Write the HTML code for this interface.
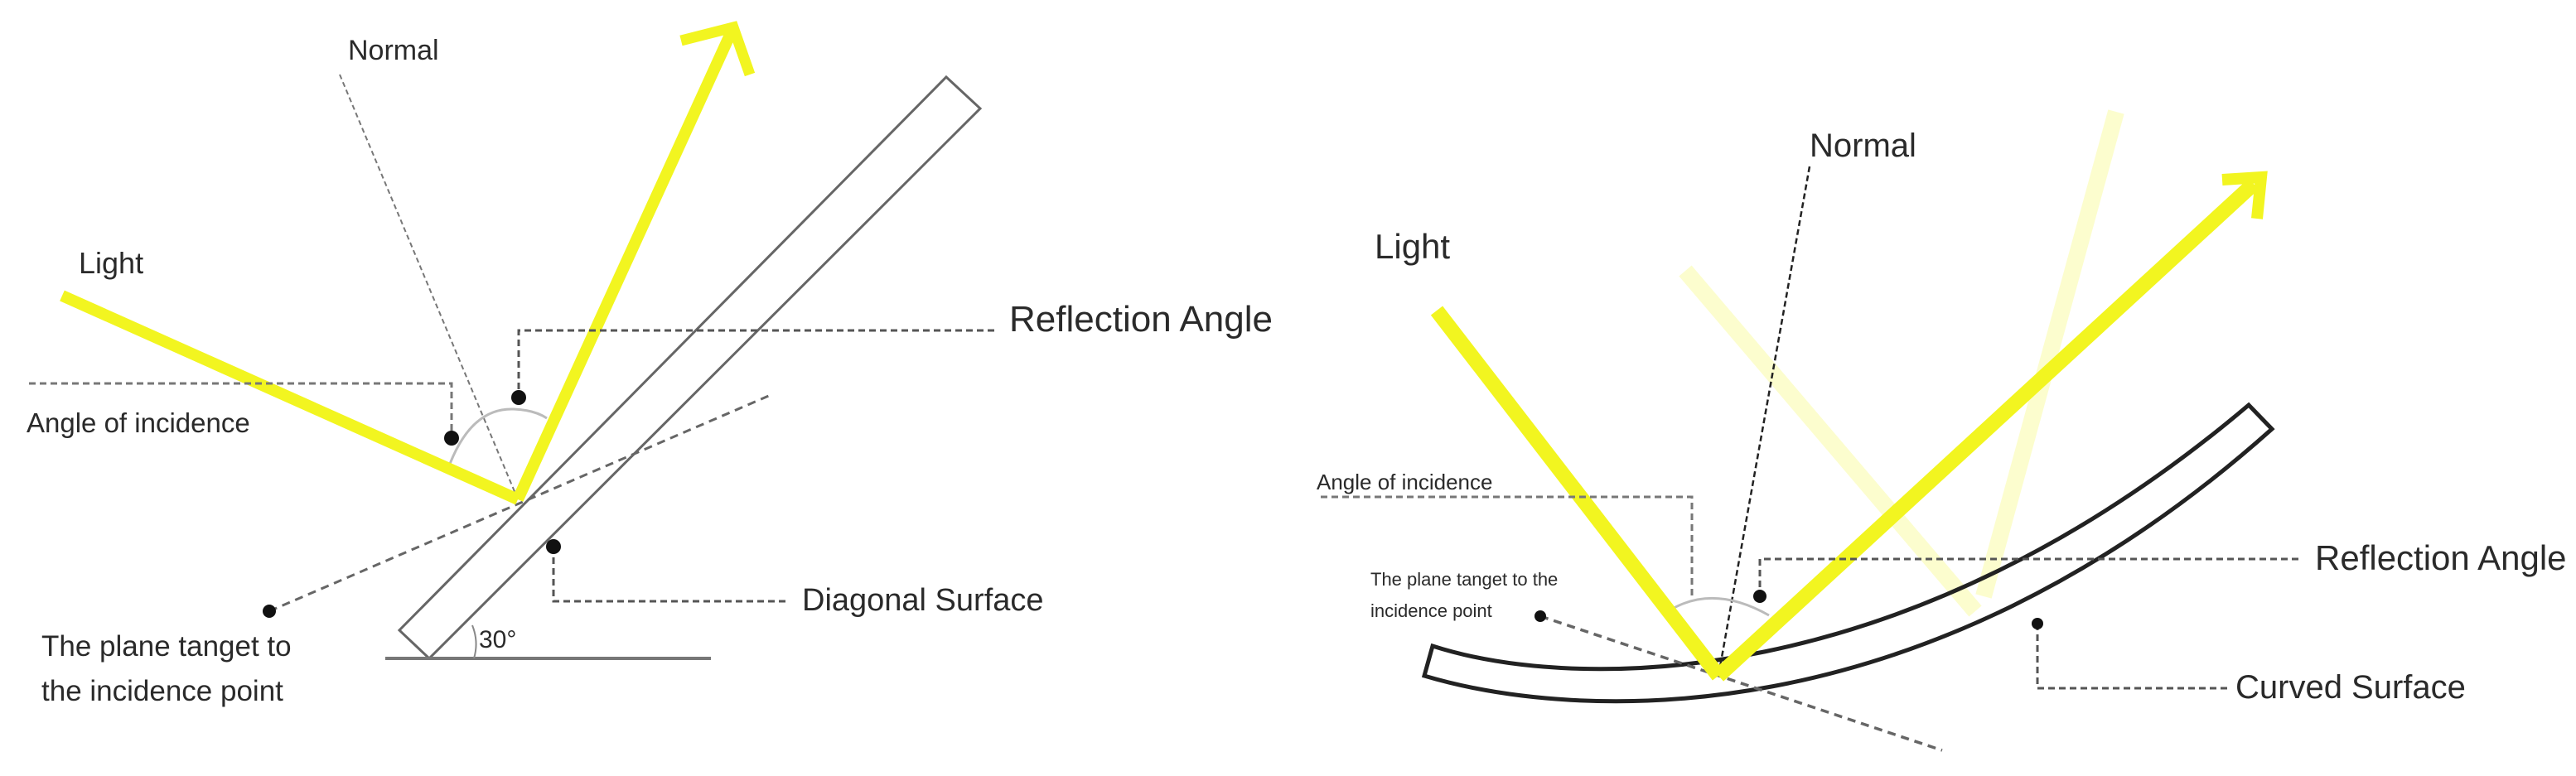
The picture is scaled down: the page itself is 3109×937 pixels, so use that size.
<!DOCTYPE html>
<html><head><meta charset="utf-8"><style>
html,body{margin:0;padding:0;background:#fff;}
svg{display:block;}
text{font-family:"Liberation Sans Narrow","Liberation Sans",sans-serif;fill:#2a2a2a;}
</style></head><body>
<svg width="3109" height="937" viewBox="0 0 3109 937" xmlns="http://www.w3.org/2000/svg">
<!-- LEFT DIAGRAM -->
<polygon points="1142,93 1183,131 518,795 482,761" fill="none" stroke="#666" stroke-width="3"/>
<line x1="465" y1="795" x2="858" y2="795" stroke="#777" stroke-width="4"/>
<path d="M570,755 Q578,775 572,795" fill="none" stroke="#888" stroke-width="2"/>
<text x="578" y="782" font-size="30">30°</text>
<line x1="410" y1="90" x2="625" y2="603" stroke="#777" stroke-width="2" stroke-dasharray="6,4"/>
<text x="420" y="72" font-size="34">Normal</text>
<line x1="325" y1="738" x2="930" y2="477" stroke="#666" stroke-width="3" stroke-dasharray="10,7"/>
<circle cx="325" cy="738" r="8" fill="#111"/>
<path d="M543,560 Q570,492 620,494 Q645,495 660,505" fill="none" stroke="#bbb" stroke-width="3"/>
<line x1="75" y1="357" x2="625" y2="603" stroke="#f2f520" stroke-width="14"/>
<line x1="625" y1="603" x2="882" y2="40" stroke="#f2f520" stroke-width="14"/>
<polyline points="822,49 885,33 905,90" fill="none" stroke="#f2f520" stroke-width="13"/>
<polyline points="35,463 545,463 545,529" fill="none" stroke="#777" stroke-width="3" stroke-dasharray="8,5"/>
<circle cx="545" cy="529" r="9" fill="#111"/>
<text x="32" y="522" font-size="33">Angle of incidence</text>
<polyline points="1200,399 626,399 626,478" fill="none" stroke="#555" stroke-width="3" stroke-dasharray="8,5"/>
<circle cx="626" cy="480" r="9" fill="#111"/>
<text x="1218" y="400" font-size="44">Reflection Angle</text>
<polyline points="668,660 668,726 950,726" fill="none" stroke="#555" stroke-width="3" stroke-dasharray="8,5"/>
<circle cx="668" cy="660" r="9" fill="#111"/>
<text x="968" y="737" font-size="38">Diagonal Surface</text>
<text x="95" y="330" font-size="36">Light</text>
<text x="50" y="792" font-size="35">The plane tanget to</text>
<text x="50" y="846" font-size="35">the incidence point</text>

<!-- RIGHT DIAGRAM -->
<line x1="2034" y1="327" x2="2384" y2="738" stroke="#f2f520" stroke-opacity="0.22" stroke-width="20"/>
<line x1="2554" y1="135" x2="2394" y2="720" stroke="#f2f520" stroke-opacity="0.22" stroke-width="20"/>
<path d="M1729,780 C1900,835 2300,840 2714,489 L2742,518 C2320,895 1900,870 1719,816 Z" fill="none" stroke="#222" stroke-width="5"/>
<line x1="2184" y1="201" x2="2074" y2="816" stroke="#222" stroke-width="2.5" stroke-dasharray="7,4"/>
<text x="2184" y="189" font-size="40">Normal</text>
<line x1="1859" y1="744" x2="2344" y2="906" stroke="#666" stroke-width="3.5" stroke-dasharray="10,7"/>
<circle cx="1859" cy="744" r="7" fill="#111"/>
<path d="M2015,737 Q2068,705 2135,743" fill="none" stroke="#bbb" stroke-width="3"/>
<line x1="1734" y1="375" x2="2074" y2="816" stroke="#f2f520" stroke-width="18"/>
<line x1="2074" y1="816" x2="2720" y2="222" stroke="#f2f520" stroke-width="18"/>
<polyline points="2682,217 2729,214 2724,264" fill="none" stroke="#f2f520" stroke-width="14"/>
<polyline points="1594,600 2042,600 2042,720" fill="none" stroke="#777" stroke-width="3" stroke-dasharray="8,5"/>
<text x="1589" y="591" font-size="26">Angle of incidence</text>
<polyline points="2774,675 2124,675 2124,718" fill="none" stroke="#555" stroke-width="3" stroke-dasharray="8,5"/>
<circle cx="2124" cy="720" r="8" fill="#111"/>
<text x="2794" y="688" font-size="42">Reflection Angle</text>
<polyline points="2459,753 2459,831 2690,831" fill="none" stroke="#555" stroke-width="3" stroke-dasharray="8,5"/>
<circle cx="2459" cy="753" r="7" fill="#111"/>
<text x="2698" y="843" font-size="40">Curved Surface</text>
<text x="1659" y="312" font-size="42">Light</text>
<text x="1654" y="707" font-size="22">The plane tanget to the</text>
<text x="1654" y="745" font-size="22">incidence point</text>
</svg>
</body></html>
